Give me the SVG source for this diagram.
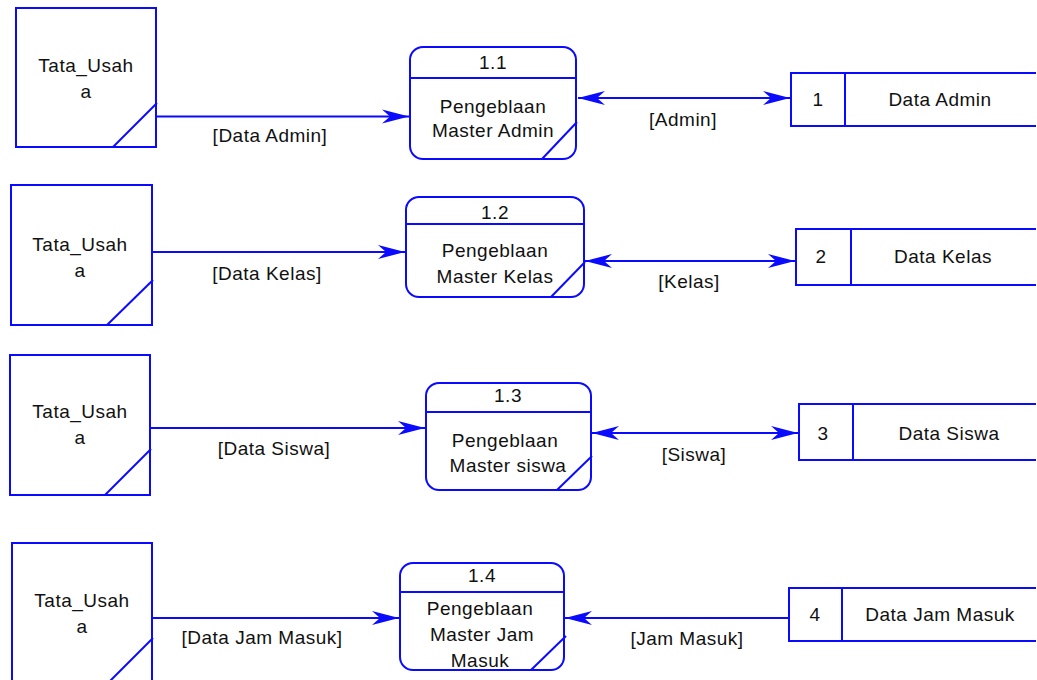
<svg xmlns="http://www.w3.org/2000/svg" width="1037" height="680" viewBox="0 0 1037 680">
<defs>
<style>
.s{fill:none;stroke:#0a0aff;stroke-width:2}
.w{fill:#fff;stroke:#0a0aff;stroke-width:2}
text{font-family:"Liberation Sans",Arial,sans-serif;font-size:19px;letter-spacing:0.5px;fill:#111;text-anchor:middle}
</style>
<marker id="ah" viewBox="-28 -8 30 16" refX="0" refY="0" markerWidth="30" markerHeight="16" markerUnits="userSpaceOnUse" orient="auto-start-reverse">
<path d="M0,0 L-27,-7 L-19,0 L-27,7 Z" fill="#0a0aff"/>
</marker>
</defs>
<rect width="1037" height="680" fill="#fff"/>

<g id="connectors">
<line class="s" x1="157" y1="116.5" x2="409" y2="116.5" marker-end="url(#ah)"/>
<text x="270" y="142">[Data Admin]</text>
<line class="s" x1="578" y1="98" x2="790" y2="98" marker-start="url(#ah)" marker-end="url(#ah)"/>
<text x="683" y="126">[Admin]</text>

<line class="s" x1="153" y1="252" x2="405" y2="252" marker-end="url(#ah)"/>
<text x="267" y="280">[Data Kelas]</text>
<line class="s" x1="585" y1="261" x2="795" y2="261" marker-start="url(#ah)" marker-end="url(#ah)"/>
<text x="689" y="288">[Kelas]</text>

<line class="s" x1="151" y1="428" x2="425" y2="428" marker-end="url(#ah)"/>
<text x="274" y="455">[Data Siswa]</text>
<line class="s" x1="592" y1="433" x2="798" y2="433" marker-start="url(#ah)" marker-end="url(#ah)"/>
<text x="694" y="461">[Siswa]</text>

<line class="s" x1="153" y1="618" x2="399" y2="618" marker-end="url(#ah)"/>
<text x="262" y="644">[Data Jam Masuk]</text>
<line class="s" x1="789" y1="618" x2="565" y2="618" marker-end="url(#ah)"/>
<text x="687" y="645">[Jam Masuk]</text>
</g>

<g id="entity1">
<rect class="w" x="16" y="8" width="140" height="139"/>
<line class="s" x1="113" y1="147" x2="157" y2="103"/>
<text x="86" y="72">Tata_Usah</text>
<text x="86" y="98">a</text>
</g>
<g id="entity2">
<rect class="w" x="11" y="185" width="141" height="140"/>
<line class="s" x1="107" y1="325" x2="153" y2="280"/>
<text x="80" y="251">Tata_Usah</text>
<text x="80" y="277">a</text>
</g>
<g id="entity3">
<rect class="w" x="10" y="355" width="140" height="140"/>
<line class="s" x1="105" y1="495" x2="151" y2="449"/>
<text x="80" y="418">Tata_Usah</text>
<text x="80" y="444">a</text>
</g>
<g id="entity4">
<rect class="w" x="12" y="543" width="140" height="150"/>
<line class="s" x1="108" y1="683" x2="153" y2="638"/>
<text x="82" y="607">Tata_Usah</text>
<text x="82" y="633">a</text>
</g>

<g id="process1">
<rect class="w" x="410" y="47" width="166" height="112" rx="13"/>
<line class="s" x1="410" y1="78" x2="576" y2="78"/>
<line class="s" x1="542" y1="159" x2="577" y2="122"/>
<text x="493" y="69">1.1</text>
<text x="493" y="113">Pengeblaan</text>
<text x="493" y="137">Master Admin</text>
</g>
<g id="process2">
<rect class="w" x="406" y="197" width="178" height="100" rx="13"/>
<line class="s" x1="406" y1="224" x2="584" y2="224"/>
<line class="s" x1="551" y1="297" x2="585" y2="262"/>
<text x="495" y="219">1.2</text>
<text x="495" y="257">Pengeblaan</text>
<text x="495" y="283">Master Kelas</text>
</g>
<g id="process3">
<rect class="w" x="426" y="383" width="165" height="107" rx="13"/>
<line class="s" x1="426" y1="412" x2="591" y2="412"/>
<line class="s" x1="557" y1="490" x2="592" y2="456"/>
<text x="508" y="402">1.3</text>
<text x="505" y="447">Pengeblaan</text>
<text x="508" y="472">Master siswa</text>
</g>
<g id="process4">
<rect class="w" x="400" y="563" width="164" height="107" rx="13"/>
<line class="s" x1="400" y1="592" x2="564" y2="592"/>
<line class="s" x1="531" y1="670" x2="566" y2="636"/>
<text x="482" y="582">1.4</text>
<text x="480" y="615">Pengeblaan</text>
<text x="482" y="641">Master Jam</text>
<text x="480" y="667">Masuk</text>
</g>

<g id="store1">
<path class="s" d="M1036,73 H791 V126 H1036 M845,73 V126"/>
<text x="818" y="106">1</text>
<text x="940" y="106">Data Admin</text>
</g>
<g id="store2">
<path class="s" d="M1036,229 H796 V285 H1036 M851,229 V285"/>
<text x="821" y="263">2</text>
<text x="943" y="263">Data Kelas</text>
</g>
<g id="store3">
<path class="s" d="M1036,404 H799 V460 H1036 M853,404 V460"/>
<text x="823" y="440">3</text>
<text x="949" y="440">Data Siswa</text>
</g>
<g id="store4">
<path class="s" d="M1036,588 H789 V641 H1036 M842,588 V641"/>
<text x="815" y="621">4</text>
<text x="940" y="621">Data Jam Masuk</text>
</g>
</svg>
